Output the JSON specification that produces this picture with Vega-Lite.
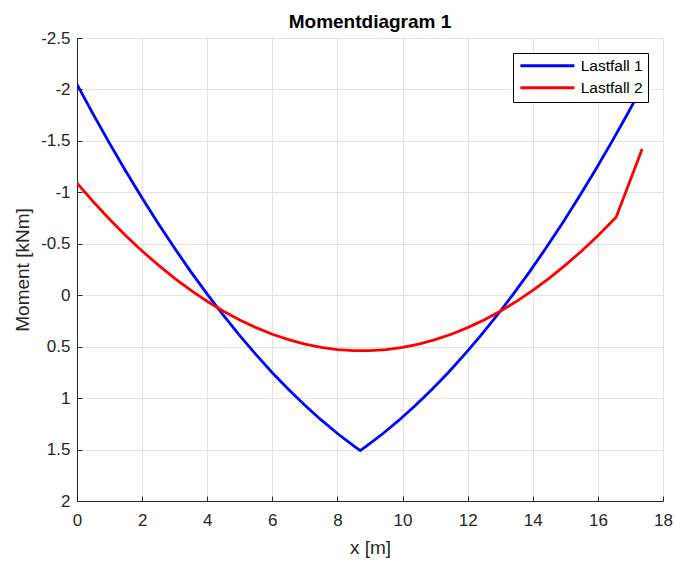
{
  "$schema": "https://vega.github.io/schema/vega-lite/v6.json",
  "autosize": "none",
  "width": 586,
  "height": 463,
  "padding": {"left": 77, "top": 38, "right": 12, "bottom": 62},
  "background": "white",
  "title": {
    "text": "Momentdiagram 1",
    "font": "Liberation Sans",
    "fontSize": 19,
    "fontWeight": "bold",
    "color": "#000000",
    "anchor": "middle",
    "baseline": "bottom",
    "offset": 4,
    "dy": 26
  },
  "data": {
    "values": [
      {"x": 0, "M": -2.05, "fall": "Lastfall 1"},
      {"x": 0.5, "M": -1.757, "fall": "Lastfall 1"},
      {"x": 1, "M": -1.476, "fall": "Lastfall 1"},
      {"x": 1.5, "M": -1.205, "fall": "Lastfall 1"},
      {"x": 2, "M": -0.944, "fall": "Lastfall 1"},
      {"x": 2.5, "M": -0.695, "fall": "Lastfall 1"},
      {"x": 3, "M": -0.456, "fall": "Lastfall 1"},
      {"x": 3.5, "M": -0.227, "fall": "Lastfall 1"},
      {"x": 4, "M": -0.01, "fall": "Lastfall 1"},
      {"x": 4.5, "M": 0.197, "fall": "Lastfall 1"},
      {"x": 5, "M": 0.393, "fall": "Lastfall 1"},
      {"x": 5.5, "M": 0.578, "fall": "Lastfall 1"},
      {"x": 6, "M": 0.753, "fall": "Lastfall 1"},
      {"x": 6.5, "M": 0.916, "fall": "Lastfall 1"},
      {"x": 7, "M": 1.07, "fall": "Lastfall 1"},
      {"x": 7.5, "M": 1.212, "fall": "Lastfall 1"},
      {"x": 8, "M": 1.344, "fall": "Lastfall 1"},
      {"x": 8.5, "M": 1.465, "fall": "Lastfall 1"},
      {"x": 8.7, "M": 1.51, "fall": "Lastfall 1"},
      {"x": 8.9, "M": 1.465, "fall": "Lastfall 1"},
      {"x": 9.4, "M": 1.344, "fall": "Lastfall 1"},
      {"x": 9.9, "M": 1.212, "fall": "Lastfall 1"},
      {"x": 10.4, "M": 1.07, "fall": "Lastfall 1"},
      {"x": 10.9, "M": 0.916, "fall": "Lastfall 1"},
      {"x": 11.4, "M": 0.753, "fall": "Lastfall 1"},
      {"x": 11.9, "M": 0.578, "fall": "Lastfall 1"},
      {"x": 12.4, "M": 0.393, "fall": "Lastfall 1"},
      {"x": 12.9, "M": 0.197, "fall": "Lastfall 1"},
      {"x": 13.4, "M": -0.01, "fall": "Lastfall 1"},
      {"x": 13.9, "M": -0.227, "fall": "Lastfall 1"},
      {"x": 14.4, "M": -0.456, "fall": "Lastfall 1"},
      {"x": 14.9, "M": -0.695, "fall": "Lastfall 1"},
      {"x": 15.4, "M": -0.944, "fall": "Lastfall 1"},
      {"x": 15.9, "M": -1.205, "fall": "Lastfall 1"},
      {"x": 16.4, "M": -1.476, "fall": "Lastfall 1"},
      {"x": 16.9, "M": -1.757, "fall": "Lastfall 1"},
      {"x": 17.4, "M": -2.05, "fall": "Lastfall 1"},
      {"x": 0, "M": -1.09, "fall": "Lastfall 2"},
      {"x": 0.5, "M": -0.909, "fall": "Lastfall 2"},
      {"x": 1, "M": -0.739, "fall": "Lastfall 2"},
      {"x": 1.5, "M": -0.579, "fall": "Lastfall 2"},
      {"x": 2, "M": -0.43, "fall": "Lastfall 2"},
      {"x": 2.5, "M": -0.292, "fall": "Lastfall 2"},
      {"x": 3, "M": -0.164, "fall": "Lastfall 2"},
      {"x": 3.5, "M": -0.047, "fall": "Lastfall 2"},
      {"x": 4, "M": 0.06, "fall": "Lastfall 2"},
      {"x": 4.5, "M": 0.155, "fall": "Lastfall 2"},
      {"x": 5, "M": 0.241, "fall": "Lastfall 2"},
      {"x": 5.5, "M": 0.315, "fall": "Lastfall 2"},
      {"x": 6, "M": 0.379, "fall": "Lastfall 2"},
      {"x": 6.5, "M": 0.432, "fall": "Lastfall 2"},
      {"x": 7, "M": 0.475, "fall": "Lastfall 2"},
      {"x": 7.5, "M": 0.507, "fall": "Lastfall 2"},
      {"x": 8, "M": 0.528, "fall": "Lastfall 2"},
      {"x": 8.5, "M": 0.539, "fall": "Lastfall 2"},
      {"x": 9, "M": 0.539, "fall": "Lastfall 2"},
      {"x": 9.5, "M": 0.528, "fall": "Lastfall 2"},
      {"x": 10, "M": 0.507, "fall": "Lastfall 2"},
      {"x": 10.5, "M": 0.475, "fall": "Lastfall 2"},
      {"x": 11, "M": 0.432, "fall": "Lastfall 2"},
      {"x": 11.5, "M": 0.379, "fall": "Lastfall 2"},
      {"x": 12, "M": 0.315, "fall": "Lastfall 2"},
      {"x": 12.5, "M": 0.241, "fall": "Lastfall 2"},
      {"x": 13, "M": 0.155, "fall": "Lastfall 2"},
      {"x": 13.5, "M": 0.06, "fall": "Lastfall 2"},
      {"x": 14, "M": -0.047, "fall": "Lastfall 2"},
      {"x": 14.5, "M": -0.164, "fall": "Lastfall 2"},
      {"x": 15, "M": -0.292, "fall": "Lastfall 2"},
      {"x": 15.5, "M": -0.43, "fall": "Lastfall 2"},
      {"x": 16, "M": -0.579, "fall": "Lastfall 2"},
      {"x": 16.56, "M": -0.759, "fall": "Lastfall 2"},
      {"x": 17.36, "M": -1.42, "fall": "Lastfall 2"}
    ]
  },
  "mark": {"type": "line", "strokeWidth": 2.8, "clip": true},
  "encoding": {
    "x": {
      "field": "x",
      "type": "quantitative",
      "scale": {"domain": [0, 18], "nice": false, "zero": false},
      "axis": {
        "title": "x [m]",
        "values": [0, 2, 4, 6, 8, 10, 12, 14, 16, 18],
        "labelExpr": "datum.value + ''",
        "tickSize": -5,
        "labelPadding": 16,
        "titlePadding": 10
      }
    },
    "y": {
      "field": "M",
      "type": "quantitative",
      "scale": {"domain": [-2.5, 2], "reverse": true, "nice": false, "zero": false},
      "axis": {
        "title": "Moment [kNm]",
        "values": [-2.5, -2, -1.5, -1, -0.5, 0, 0.5, 1, 1.5, 2],
        "labelExpr": "datum.value + ''",
        "tickSize": -5,
        "labelPadding": 12,
        "titlePadding": 8
      }
    },
    "color": {
      "field": "fall",
      "type": "nominal",
      "scale": {"domain": ["Lastfall 1", "Lastfall 2"], "range": ["#0000ff", "#ff0000"]},
      "legend": {
        "title": null,
        "orient": "none",
        "legendX": 436,
        "legendY": 15,
        "symbolType": "M-1,0H9",
        "symbolSize": 116.64,
        "symbolStrokeWidth": 3,
        "labelFontSize": 15.5,
        "labelFont": "Liberation Sans",
        "labelColor": "#000000",
        "labelOffset": 47.2,
        "strokeColor": "#000000",
        "fillColor": "#ffffff",
        "padding": 5,
        "rowPadding": 5
      }
    }
  },
  "config": {
    "view": {"stroke": null},
    "font": "Liberation Sans",
    "axis": {
      "labelFont": "Liberation Sans",
      "labelFontSize": 17,
      "labelColor": "#262626",
      "titleFont": "Liberation Sans",
      "titleFontSize": 19,
      "titleFontWeight": "normal",
      "titleColor": "#262626",
      "domainColor": "#262626",
      "tickColor": "#262626",
      "gridColor": "#e3e3e3",
      "grid": true,
      "labelFlush": false,
      "labelOverlap": false
    }
  }
}
